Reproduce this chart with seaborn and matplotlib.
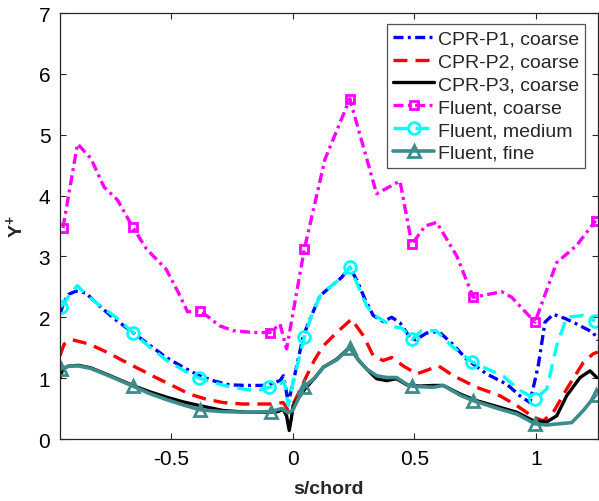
import numpy as np
import pandas as pd
import matplotlib
matplotlib.use("Agg")
import matplotlib.pyplot as plt
from matplotlib.lines import Line2D
import seaborn as sns

# ---- CPR-P1, coarse ----
p1_x = [-0.956, -0.94, -0.92, -0.89, -0.85, -0.795, -0.74, -0.657, -0.59, -0.52, -0.45, -0.384,
        -0.32, -0.26, -0.19, -0.107, -0.052, -0.038, -0.018, 0.002, 0.044, 0.08, 0.112, 0.16,
        0.2, 0.235, 0.265, 0.297, 0.331, 0.372, 0.407, 0.441, 0.482, 0.505, 0.55, 0.578, 0.605,
        0.66, 0.715, 0.797, 0.88, 0.934, 0.975, 1.009, 1.037, 1.071, 1.12, 1.167, 1.235, 1.254]
p1_y = [2.05, 2.25, 2.38, 2.43, 2.40, 2.19, 2.0, 1.75, 1.55, 1.34, 1.18, 1.04,
        0.95, 0.89, 0.88, 0.88, 0.96, 1.04, 0.6, 0.93, 1.70, 2.05, 2.35, 2.52,
        2.65, 2.82, 2.6, 2.30, 2.03, 1.93, 2.0, 1.91, 1.67, 1.63, 1.74, 1.76, 1.75,
        1.55, 1.31, 1.07, 0.90, 0.71, 0.60, 1.20, 1.92, 2.05, 1.98, 1.89, 1.75, 1.62]

# ---- CPR-P2, coarse ----
p2_x = [-0.956, -0.939, -0.904, -0.836, -0.76, -0.699, -0.63, -0.562, -0.49, -0.425, -0.36,
        -0.288, -0.205, -0.13, -0.08, -0.039, -0.018, 0.009, 0.058, 0.09, 0.126, 0.181, 0.242,
        0.29, 0.331, 0.372, 0.407, 0.455, 0.51, 0.6, 0.66, 0.756, 0.852, 0.921, 0.989, 1.03,
        1.071, 1.126, 1.195, 1.235, 1.254]
p2_y = [1.37, 1.56, 1.63, 1.56, 1.42, 1.29, 1.15, 1.01, 0.87, 0.74, 0.66,
        0.60, 0.575, 0.575, 0.575, 0.60, 0.47, 0.63, 1.04, 1.3, 1.53, 1.75, 1.97,
        1.70, 1.37, 1.29, 1.34, 1.20, 1.07, 1.20, 1.04, 0.85, 0.71, 0.55, 0.36, 0.30,
        0.44, 0.82, 1.26, 1.40, 1.43]

# ---- CPR-P3, coarse ----
p3_x = [-0.956, -0.945, -0.92, -0.88, -0.83, -0.75, -0.657, -0.59, -0.52, -0.45, -0.384,
        -0.288, -0.19, -0.1, -0.06, -0.039, -0.025, -0.014, -0.005, 0.002, 0.05, 0.09, 0.126,
        0.181, 0.235, 0.27, 0.304, 0.345, 0.386, 0.427, 0.469, 0.523, 0.578, 0.619, 0.688,
        0.756, 0.852, 0.921, 0.989, 1.044, 1.085, 1.126, 1.181, 1.222, 1.25]
p3_y = [1.0, 1.15, 1.2, 1.21, 1.17, 1.04, 0.88, 0.78, 0.69, 0.61, 0.55,
        0.47, 0.44, 0.44, 0.45, 0.49, 0.38, 0.14, 0.35, 0.55, 0.82, 1.0, 1.18,
        1.31, 1.51, 1.3, 1.15, 0.99, 0.96, 0.99, 0.89, 0.87, 0.88, 0.88, 0.74,
        0.63, 0.52, 0.44, 0.30, 0.28, 0.38, 0.71, 1.01, 1.12, 1.01]

# ---- Fluent, coarse ----
fc_x = [-0.944, -0.884, -0.829, -0.775, -0.72, -0.657, -0.6, -0.52, -0.47, -0.432, -0.38,
        -0.3, -0.244, -0.162, -0.093, -0.052, -0.025, 0.048, 0.133, 0.235, 0.345, 0.441,
        0.49, 0.544, 0.592, 0.674, 0.742, 0.859, 0.9, 0.996, 1.085, 1.167, 1.245]
fc_y = [3.47, 4.85, 4.61, 4.14, 3.93, 3.48, 3.12, 2.79, 2.41, 2.09, 2.11,
        1.86, 1.78, 1.75, 1.75, 1.89, 1.48, 3.12, 4.6, 5.59, 4.03, 4.24,
        3.2, 3.5, 3.56, 3.01, 2.33, 2.42, 2.33, 1.92, 2.90, 3.18, 3.59]
fc_marks = [0, 5, 10, 14, 17, 19, 22, 26, 29, 32]

# ---- Fluent, medium ----
fm_x = [-0.952, -0.92, -0.885, -0.85, -0.795, -0.72, -0.657, -0.59, -0.52, -0.45, -0.384,
        -0.32, -0.26, -0.2, -0.148, -0.096, -0.06, -0.035, -0.018, 0.0, 0.048, 0.08, 0.112,
        0.16, 0.2, 0.235, 0.265, 0.304, 0.33, 0.37, 0.41, 0.45, 0.49, 0.53, 0.59, 0.653,
        0.736, 0.8, 0.866, 0.934, 0.996, 1.044, 1.085, 1.126, 1.195, 1.243]
fm_y = [2.17, 2.35, 2.52, 2.38, 2.2, 1.98, 1.75, 1.52, 1.30, 1.13, 1.0,
        0.92, 0.86, 0.82, 0.79, 0.85, 0.88, 0.95, 0.55, 0.9, 1.68, 2.05, 2.35,
        2.52, 2.65, 2.83, 2.55, 2.19, 2.05, 1.95, 1.85, 1.82, 1.64, 1.78, 1.78, 1.53,
        1.27, 1.15, 1.03, 0.80, 0.66, 0.82, 1.53, 2.0, 2.03, 1.94]
fm_marks = [0, 6, 10, 15, 20, 25, 32, 36, 40, 45]

# ---- Fluent, fine ----
ff_x = [-0.952, -0.92, -0.88, -0.83, -0.75, -0.657, -0.59, -0.52, -0.45, -0.38, -0.29,
        -0.19, -0.09, -0.045, -0.018, 0.0, 0.048, 0.09, 0.126, 0.181, 0.235, 0.27, 0.304,
        0.345, 0.386, 0.427, 0.469, 0.49, 0.523, 0.578, 0.619, 0.688, 0.742, 0.852, 0.921,
        0.996, 1.044, 1.147, 1.195, 1.245]
ff_y = [1.15, 1.2, 1.2, 1.16, 1.03, 0.87, 0.75, 0.65, 0.56, 0.48, 0.45,
        0.44, 0.45, 0.50, 0.43, 0.47, 0.86, 1.0, 1.18, 1.3, 1.5, 1.3, 1.15,
        1.04, 1.01, 1.01, 0.90, 0.87, 0.86, 0.85, 0.88, 0.72, 0.63, 0.49, 0.41,
        0.25, 0.23, 0.27, 0.47, 0.72]
ff_marks = [0, 5, 9, 12, 16, 20, 27, 32, 35, 39]

x_ticks = [-0.5, 0, 0.5, 1]
x_tick_labels = ["-0.5", "0", "0.5", "1"]
y_ticks = [0, 1, 2, 3, 4, 5, 6, 7]

sns.set_style("ticks")
plt.rcParams["font.family"] = ["Liberation Sans", "DejaVu Sans"]
plt.rcParams["mathtext.fontset"] = "custom"
plt.rcParams["mathtext.rm"] = "Liberation Sans"
plt.rcParams["mathtext.bf"] = "Liberation Sans:bold"

fig = plt.figure(figsize=(5.99, 5.02), dpi=100)
ax = fig.add_axes([0.1002, 0.1235, 0.8978, 0.8485])

LW = 2.4
dashdot = (0, (3.0, 1.3, 0.9, 1.3))
dashed = (0, (4.2, 2.4))
teal = "#3d8c8c"
series = [
    dict(x=p1_x, y=p1_y, label="CPR-P1, coarse", color="#0000ff", ls=dashdot, lw=LW),
    dict(x=p2_x, y=p2_y, label="CPR-P2, coarse", color="#ff0000", ls=dashed, lw=LW),
    dict(x=p3_x, y=p3_y, label="CPR-P3, coarse", color="black", ls="-", lw=LW),
    dict(x=fc_x, y=fc_y, label="Fluent, coarse", color="#ff00ff", ls=dashdot, lw=LW,
         marker="s", ms=6, marks=fc_marks),
    dict(x=fm_x, y=fm_y, label="Fluent, medium", color="#00ffff", ls=dashed, lw=LW,
         marker="o", ms=8.5, marks=fm_marks),
    dict(x=ff_x, y=ff_y, label="Fluent, fine", color=teal, ls="-", lw=2.6,
         marker="^", ms=8.5, marks=ff_marks),
]

handles = []
for s in series:
    df = pd.DataFrame({"s": s["x"], "yp": s["y"]})
    kw = dict(color=s["color"], linestyle=s["ls"], linewidth=s["lw"])
    if "marker" in s:
        kw.update(marker=s["marker"], markersize=s["ms"], markerfacecolor="none",
                  markeredgecolor=s["color"], markeredgewidth=2.0, markevery=s["marks"])
    sns.lineplot(data=df, x="s", y="yp", sort=False, estimator=None, ax=ax, legend=False, **kw)
    hkw = dict(kw)
    hkw.pop("markevery", None)
    handles.append(Line2D([], [], label=s["label"], **hkw))

ax.set_xlim(-0.956, 1.254)
ax.set_ylim(0, 7)
ax.set_xticks(x_ticks)
ax.set_xticklabels(x_tick_labels)
ax.set_yticks(y_ticks)
ax.tick_params(direction="in", length=4.5, width=0.8, top=True, right=True,
               labelsize=15, colors="#262626", labelcolor="black", pad=7)
for sp in ax.spines.values():
    sp.set_visible(True)
    sp.set_color("#262626")
    sp.set_linewidth(0.9)

ax.set_xlabel("s/chord", fontsize=14, fontweight="bold", labelpad=9)
ax.set_ylabel(r"Y$^{\mathbf{+}}$", fontsize=14, fontweight="bold", labelpad=8)

leg = ax.legend(handles=handles, loc="upper right", bbox_to_anchor=(0.976, 0.974),
                borderaxespad=0, fontsize=14, frameon=True, fancybox=False,
                edgecolor="#262626", labelspacing=0.27, handlelength=2.1,
                handletextpad=0.2, borderpad=0.3, numpoints=1)
leg.get_frame().set_linewidth(0.9)

fig.savefig("out.png", dpi=100)
